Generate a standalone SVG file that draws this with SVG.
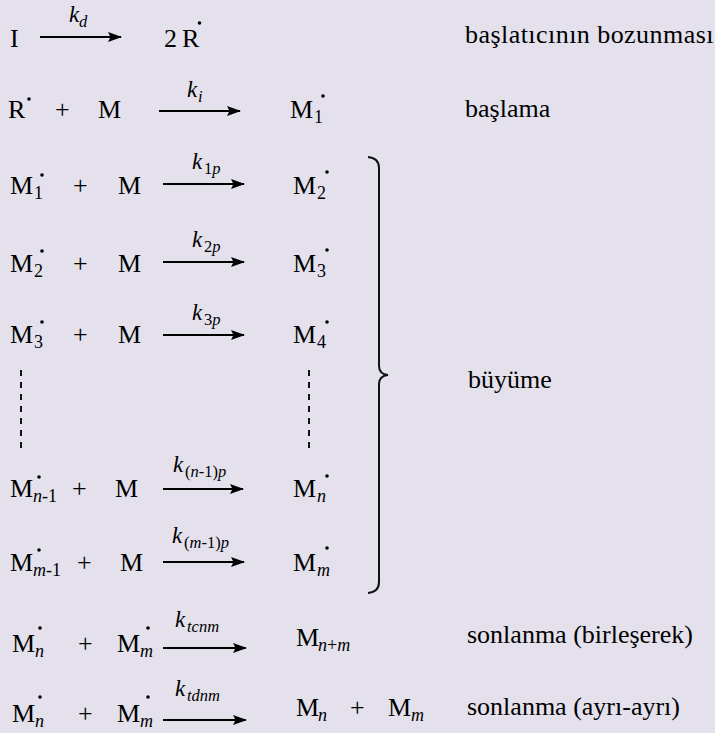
<svg xmlns="http://www.w3.org/2000/svg" width="715" height="733" viewBox="0 0 715 733">
<style>
text { font-family: "Liberation Serif", "Times New Roman", serif; fill: #000; }
.t { font-size: 26px; }
.s { font-size: 18px; }
.i { font-style: italic; }
.k { font-size: 23px; font-style: italic; }
.ks { font-size: 16.5px; }
.u { font-style: normal; }
.ar { stroke: #000; stroke-width: 2; fill: none; marker-end: url(#ah); }
.dash { stroke: #111; stroke-width: 2; stroke-dasharray: 6 6; fill: none; }
.brace { stroke: #111; stroke-width: 2; fill: none; }
.lbl { font-size: 26px; }
.dot { fill: #000; }
</style>
<defs>
<marker id="ah" markerUnits="userSpaceOnUse" markerWidth="16" markerHeight="12" refX="13" refY="5" orient="auto">
<path d="M0,0 L14,5 L0,10 L2.5,5 z" fill="#000"/>
</marker>
</defs>
<rect width="715" height="733" fill="#E4E0EC"/>

<g id="connectors">
<line class="ar" x1="40" y1="37" x2="121" y2="37"/>
<line class="ar" x1="159" y1="111" x2="240" y2="111"/>
<line class="ar" x1="163" y1="184" x2="244" y2="184"/>
<line class="ar" x1="163" y1="262" x2="244" y2="262"/>
<line class="ar" x1="163" y1="335" x2="244" y2="335"/>
<line class="ar" x1="163" y1="489" x2="243" y2="489"/>
<line class="ar" x1="163" y1="562" x2="244" y2="562"/>
<line class="ar" x1="163" y1="648" x2="246" y2="648"/>
<line class="ar" x1="163" y1="720" x2="246" y2="720"/>
<line class="dash" x1="21" y1="370" x2="21" y2="452"/>
<line class="dash" x1="309" y1="370" x2="309" y2="452"/>
<path class="brace" d="M368,157 Q379,158 379,168 L379,366 Q379,374 388,375 Q379,376 379,384 L379,582 Q379,592 368,593"/>
</g>

<g id="row1">
<text class="t" x="10" y="47">I</text>
<text class="k" x="69" y="22">k</text><text class="ks i" x="79" y="27">d</text>
<text class="t" x="164" y="47">2</text>
<text class="t" x="182" y="47">R</text>
<circle class="dot" cx="199.5" cy="23" r="1.8"/>
<text class="lbl" x="465" y="43" letter-spacing="0.45">başlatıcının bozunması</text>
</g>

<g id="row2">
<text class="t" x="8" y="118">R</text>
<circle class="dot" cx="29" cy="99" r="1.8"/>
<text class="t" x="55" y="118">+</text>
<text class="t" x="98" y="118">M</text>
<text class="k" x="187" y="97">k</text><text class="ks i" x="198" y="102">i</text>
<text class="t" x="290" y="118">M</text><text class="s" x="314" y="123">1</text>
<circle class="dot" cx="323" cy="96" r="1.8"/>
<text class="lbl" x="465" y="117">başlama</text>
</g>

<g id="row3">
<text class="t" x="10" y="194">M</text><text class="s" x="34" y="199">1</text>
<circle class="dot" cx="42" cy="175" r="1.8"/>
<text class="t" x="73" y="194">+</text>
<text class="t" x="118" y="194">M</text>
<text class="k" x="192" y="169">k</text><text class="ks" x="204" y="174">1<tspan class="i">p</tspan></text>
<text class="t" x="293" y="194">M</text><text class="s" x="317" y="199">2</text>
<circle class="dot" cx="327" cy="172" r="1.8"/>
</g>

<g id="row4">
<text class="t" x="10" y="272">M</text><text class="s" x="34" y="277">2</text>
<circle class="dot" cx="42" cy="251" r="1.8"/>
<text class="t" x="73" y="272">+</text>
<text class="t" x="118" y="272">M</text>
<text class="k" x="192" y="247">k</text><text class="ks" x="204" y="252">2<tspan class="i">p</tspan></text>
<text class="t" x="293" y="272">M</text><text class="s" x="317" y="277">3</text>
<circle class="dot" cx="327" cy="250" r="1.8"/>
</g>

<g id="row5">
<text class="t" x="10" y="343">M</text><text class="s" x="34" y="348">3</text>
<circle class="dot" cx="42" cy="322" r="1.8"/>
<text class="t" x="73" y="343">+</text>
<text class="t" x="118" y="343">M</text>
<text class="k" x="192" y="320">k</text><text class="ks" x="204" y="325">3<tspan class="i">p</tspan></text>
<text class="t" x="293" y="343">M</text><text class="s" x="317" y="348">4</text>
<circle class="dot" cx="327" cy="322" r="1.8"/>
</g>

<g id="row6">
<text class="t" x="10" y="497">M</text><text class="s" x="33" y="502"><tspan class="i">n</tspan>-1</text>
<circle class="dot" cx="39" cy="477" r="1.8"/>
<text class="t" x="72" y="497">+</text>
<text class="t" x="115" y="497">M</text>
<text class="k" x="173" y="472">k</text><text class="ks" x="185" y="477">(<tspan class="i">n</tspan>-1)<tspan class="i">p</tspan></text>
<text class="t" x="293" y="497">M</text><text class="s i" x="317" y="502">n</text>
<circle class="dot" cx="327" cy="476" r="1.8"/>
<text class="lbl" x="468" y="388">büyüme</text>
</g>

<g id="row7">
<text class="t" x="10" y="571">M</text><text class="s" x="33" y="576"><tspan class="i">m</tspan>-1</text>
<circle class="dot" cx="39" cy="550" r="1.8"/>
<text class="t" x="77" y="571">+</text>
<text class="t" x="120" y="571">M</text>
<text class="k" x="172" y="543">k</text><text class="ks" x="184" y="548">(<tspan class="i">m</tspan>-1)<tspan class="i">p</tspan></text>
<text class="t" x="293" y="571">M</text><text class="s i" x="317" y="576">m</text>
<circle class="dot" cx="327" cy="548" r="1.8"/>
</g>

<g id="row8">
<text class="t" x="12" y="652">M</text><text class="s i" x="35" y="657">n</text>
<circle class="dot" cx="40" cy="628" r="1.8"/>
<text class="t" x="78" y="652">+</text>
<text class="t" x="117" y="652">M</text><text class="s i" x="140" y="657">m</text>
<circle class="dot" cx="148" cy="628" r="1.8"/>
<text class="k" x="175" y="627">k</text><text class="ks i" x="187" y="632">tcnm</text>
<text class="t" x="296" y="646">M</text><text class="s i" x="318" y="651">n<tspan class="u">+</tspan>m</text>
<text class="lbl" x="467" y="643">sonlanma (birleşerek)</text>
</g>

<g id="row9">
<text class="t" x="12" y="722">M</text><text class="s i" x="35" y="727">n</text>
<circle class="dot" cx="40" cy="697" r="1.8"/>
<text class="t" x="78" y="722">+</text>
<text class="t" x="117" y="722">M</text><text class="s i" x="140" y="727">m</text>
<circle class="dot" cx="148" cy="697" r="1.8"/>
<text class="k" x="175" y="696">k</text><text class="ks i" x="187" y="701">tdnm</text>
<text class="t" x="296" y="716">M</text><text class="s i" x="318" y="721">n</text>
<text class="t" x="350" y="716">+</text>
<text class="t" x="388" y="716">M</text><text class="s i" x="411" y="721">m</text>
<text class="lbl" x="467" y="715">sonlanma (ayrı-ayrı)</text>
</g>
</svg>
